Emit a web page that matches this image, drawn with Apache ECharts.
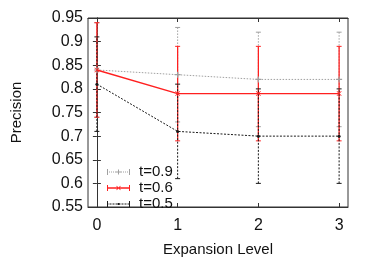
<!DOCTYPE html>
<html><head><meta charset="utf-8">
<script src="https://cdn.jsdelivr.net/npm/echarts@6/dist/echarts.min.js"></script>
<style>html,body{margin:0;padding:0;background:#fff}#c{width:374px;height:262px}</style>
</head><body><div id="c"></div>
<script>
const levels = [0, 1, 2, 3];
const xTicks = [0, 1, 2, 3];
const names = ['t=0.9', 't=0.6', 't=0.5'];
const t09 = [0.84, 0.83, 0.82, 0.82];
const t09Low = [0.74, 0.73, 0.72, 0.72];
const t09High = [0.94, 0.93, 0.92, 0.92];
const t06 = [0.84, 0.79, 0.79, 0.79];
const t06Low = [0.74, 0.69, 0.69, 0.69];
const t06High = [0.94, 0.89, 0.89, 0.89];
const t05 = [0.81, 0.71, 0.70, 0.70];
const t05Low = [0.71, 0.61, 0.60, 0.60];
const t05High = [0.91, 0.81, 0.80, 0.80];

const FONT = '"Liberation Sans", Arial, sans-serif';
const colors = ['#a0a0a0', '#ff2020', '#1a1a1a'];
const dashes = [[1.5, 1.5], null, [2, 1.5]];

function rect(x, y, w, h) { return 'M' + x + ',' + y + 'h' + w + 'v' + h + 'h' + (-w) + 'Z'; }
function dashRow(step, on) { let s = ''; for (let x = 0; x + on <= 46; x += step) s += rect(x, 5, on, 2); return s; }
const caps = rect(0, 0, 2, 12) + rect(44, 0, 2, 12);
const iconGray = 'path://' + dashRow(4, 2) + rect(44, 5, 2, 2) + caps + rect(22, 1, 2, 10) + rect(18, 5, 10, 2);
const iconRed = 'path://' + rect(0, 4.6, 46, 2.8) + caps +
  'M18.5,2.5L19.5,1.5L27.5,9.5L26.5,10.5Z M26.5,1.5L27.5,2.5L19.5,10.5L18.5,9.5Z';
const iconBlack = 'path://' + dashRow(3, 2) + rect(44, 5, 2, 2) + caps + rect(21, 4, 4, 4);

function errSeries(idx, low, high) {
  return {
    type: 'custom', silent: true, z: 2 + idx,
    data: levels.map((x, i) => [x, low[i], high[i]]),
    renderItem: function (params, api) {
      const x = api.value(0);
      const a = api.coord([x, api.value(1)]);
      const b = api.coord([x, api.value(2)]);
      const st = { stroke: colors[idx], lineWidth: idx === 1 ? 1.3 : 1, lineDash: dashes[idx] };
      const cw = 2.5;
      return { type: 'group', children: [
        { type: 'line', shape: { x1: a[0], y1: a[1], x2: b[0], y2: b[1] }, style: st },
        { type: 'line', shape: { x1: a[0] - cw, y1: a[1], x2: a[0] + cw, y2: a[1] }, style: { stroke: colors[idx], lineWidth: 1 } },
        { type: 'line', shape: { x1: b[0] - cw, y1: b[1], x2: b[0] + cw, y2: b[1] }, style: { stroke: colors[idx], lineWidth: 1 } }
      ]};
    }
  };
}
function lineSeries(idx, vals, symbol, size) {
  return {
    name: names[idx], type: 'line', z: 5 + idx,
    data: levels.map((x, i) => [x, vals[i]]),
    symbol: symbol, symbolSize: size, showSymbol: true,
    itemStyle: { color: colors[idx] },
    lineStyle: { color: colors[idx], width: idx === 1 ? 1.4 : 1, type: dashes[idx] ? dashes[idx] : 'solid' },
    animation: false
  };
}
const plus = 'path://M4,0H6V4H10V6H6V10H4V6H0V4H4Z';
const cross = 'path://M0,1L1,0L5,4L9,0L10,1L6,5L10,9L9,10L5,6L1,10L0,9L4,5Z';

const chart = echarts.init(document.getElementById('c'), null, { renderer: 'canvas' });
chart.setOption({
  animation: false,
  grid: { left: 88, right: 26, top: 18, bottom: 48, show: true, borderColor: '#333', borderWidth: 1, backgroundColor: 'transparent' },
  legend: {
    orient: 'vertical', left: 102, top: 159, itemWidth: 23, itemHeight: 6, itemGap: 0,
    symbolKeepAspect: false,
    data: [
      { name: names[0], icon: iconGray },
      { name: names[1], icon: iconRed },
      { name: names[2], icon: iconBlack }
    ],
    textStyle: { fontFamily: FONT, fontSize: 15, lineHeight: 16, color: '#111', padding: [0, 0, 0, 4] }
  },
  xAxis: [{
    type: 'value', min: -0.11, max: 3.11,
    name: 'Expansion Level', nameLocation: 'middle', nameGap: 35,
    nameTextStyle: { fontFamily: FONT, fontSize: 15, color: '#111' },
    axisLine: { lineStyle: { color: '#333' } },
    axisTick: { inside: true, length: 4, customValues: xTicks, lineStyle: { color: '#333' } },
    axisLabel: { customValues: xTicks, fontFamily: FONT, fontSize: 16, color: '#111', margin: 11 },
    splitLine: { show: false }
  }, {
    type: 'value', position: 'top', min: -0.11, max: 3.11,
    axisLine: { lineStyle: { color: '#333' } },
    axisTick: { inside: true, length: 4, customValues: xTicks, lineStyle: { color: '#333' } },
    axisLabel: { show: false }, splitLine: { show: false }
  }],
  yAxis: [{
    type: 'value', min: 0.55, max: 0.95, interval: 0.05,
    name: 'Precision', nameLocation: 'middle', nameGap: 64, nameRotate: 90,
    nameTextStyle: { fontFamily: FONT, fontSize: 15, color: '#111' },
    axisLine: { show: true, lineStyle: { color: '#333' } },
    axisTick: { show: true, inside: true, length: 4, lineStyle: { color: '#333' } },
    axisLabel: { fontFamily: FONT, fontSize: 16, color: '#111', margin: 5, formatter: v => String(parseFloat(v.toFixed(2))) },
    splitLine: { show: false }
  }, {
    type: 'value', position: 'right', min: 0.55, max: 0.95, interval: 0.05,
    axisLine: { show: true, lineStyle: { color: '#333' } },
    axisTick: { show: true, inside: true, length: 4, lineStyle: { color: '#333' } },
    axisLabel: { show: false }, splitLine: { show: false }
  }],
  series: [
    errSeries(0, t09Low, t09High),
    errSeries(2, t05Low, t05High),
    errSeries(1, t06Low, t06High),
    lineSeries(0, t09, plus, 6),
    lineSeries(2, t05, 'circle', 3),
    lineSeries(1, t06, cross, 5)
  ]
});
</script></body></html>
